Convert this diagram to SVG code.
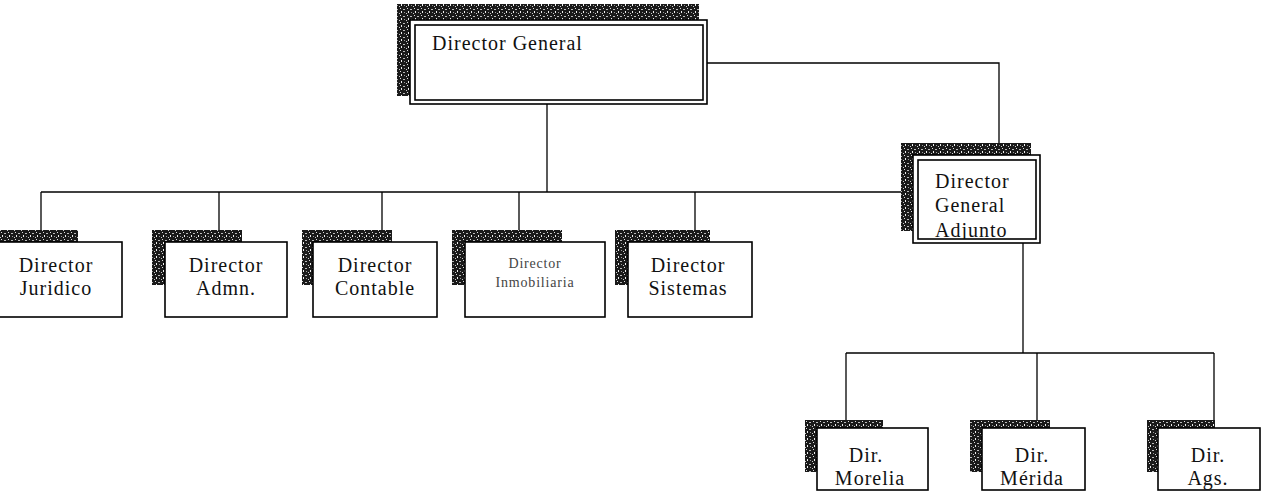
<svg xmlns="http://www.w3.org/2000/svg" width="1263" height="494" viewBox="0 0 1263 494">
<style>
.box{fill:#fff;stroke:#000;stroke-width:1.6}
.con{fill:none;stroke:#000;stroke-width:1.3}
.sh{fill:url(#noise)}
.t{font-family:"Liberation Serif","Times New Roman",serif;font-size:20px;letter-spacing:1px;fill:#111}
.c{text-anchor:middle}
.s{font-size:14px;letter-spacing:0.8px;fill:#444}
</style>
<defs>
<pattern id="noise" width="7" height="7" patternUnits="userSpaceOnUse">
<rect width="7" height="7" fill="#1a1a1a"/>
<rect x="1" y="1" width="1" height="1" fill="#ddd"/>
<rect x="4" y="2" width="2" height="1" fill="#bbb"/>
<rect x="2" y="4" width="1" height="2" fill="#eee"/>
<rect x="5" y="5" width="1" height="1" fill="#999"/>
<rect x="0" y="6" width="1" height="1" fill="#ccc"/>
</pattern>
<clipPath id="dgaClip"><rect x="918" y="160" width="118" height="79"/></clipPath>
</defs>
<g id="connectors">
<polyline class="con" points="707,63 999,63 999,155"/>
<line class="con" x1="547" y1="104" x2="547" y2="192"/>
<line class="con" x1="41" y1="192" x2="913" y2="192"/>
<line class="con" x1="41" y1="192" x2="41" y2="242"/>
<line class="con" x1="219" y1="192" x2="219" y2="242"/>
<line class="con" x1="382" y1="192" x2="382" y2="242"/>
<line class="con" x1="519" y1="192" x2="519" y2="242"/>
<line class="con" x1="695" y1="192" x2="695" y2="242"/>
<line class="con" x1="1023" y1="243" x2="1023" y2="353"/>
<line class="con" x1="846" y1="353" x2="1214" y2="353"/>
<line class="con" x1="846" y1="353" x2="846" y2="428"/>
<line class="con" x1="1037" y1="353" x2="1037" y2="428"/>
<line class="con" x1="1214" y1="353" x2="1214" y2="428"/>
</g>
<g id="dg">
<rect class="sh" x="397" y="4" width="302" height="92"/>
<rect class="box" x="410" y="20" width="297" height="84"/>
<rect class="box" x="415" y="25" width="288" height="75"/>
<text class="t" x="432" y="50">Director General</text>
</g>
<g id="dga">
<rect class="sh" x="901" y="143" width="130" height="88"/>
<rect class="box" x="913" y="155" width="127" height="88"/>
<rect class="box" x="918" y="160" width="118" height="79"/>
<g clip-path="url(#dgaClip)">
<text class="t" x="935" y="188">Director</text>
<text class="t" x="935" y="212">General</text>
<text class="t" x="935" y="237">Adjunto</text>
</g>
</g>
<g id="juridico">
<rect class="sh" x="0" y="230" width="78" height="20"/>
<rect class="box" x="-2" y="242" width="124" height="75"/>
<text class="t c" x="56" y="272">Director</text>
<text class="t c" x="56" y="295">Juridico</text>
</g>
<g id="admn">
<rect class="sh" x="152" y="230" width="90" height="55"/>
<rect class="box" x="165" y="242" width="122" height="75"/>
<text class="t c" x="226" y="272">Director</text>
<text class="t c" x="226" y="295">Admn.</text>
</g>
<g id="contable">
<rect class="sh" x="302" y="230" width="90" height="55"/>
<rect class="box" x="313" y="242" width="124" height="75"/>
<text class="t c" x="375" y="272">Director</text>
<text class="t c" x="375" y="295">Contable</text>
</g>
<g id="inmobiliaria">
<rect class="sh" x="452" y="230" width="110" height="55"/>
<rect class="box" x="465" y="242" width="140" height="75"/>
<text class="t c s" x="535" y="268">Director</text>
<text class="t c s" x="535" y="287">Inmobiliaria</text>
</g>
<g id="sistemas">
<rect class="sh" x="615" y="230" width="95" height="55"/>
<rect class="box" x="628" y="242" width="124" height="75"/>
<text class="t c" x="688" y="272">Director</text>
<text class="t c" x="688" y="295">Sistemas</text>
</g>
<g id="morelia">
<rect class="sh" x="805" y="420" width="78" height="52"/>
<rect class="box" x="817" y="428" width="111" height="62"/>
<text class="t c" x="866" y="462">Dir.</text>
<text class="t c" x="870" y="485">Morelia</text>
</g>
<g id="merida">
<rect class="sh" x="970" y="420" width="80" height="52"/>
<rect class="box" x="982" y="428" width="103" height="62"/>
<text class="t c" x="1032" y="462">Dir.</text>
<text class="t c" x="1032" y="485">Mérida</text>
</g>
<g id="ags">
<rect class="sh" x="1147" y="420" width="68" height="52"/>
<rect class="box" x="1158" y="428" width="102" height="62"/>
<text class="t c" x="1208" y="462">Dir.</text>
<text class="t c" x="1208" y="485">Ags.</text>
</g>
</svg>
